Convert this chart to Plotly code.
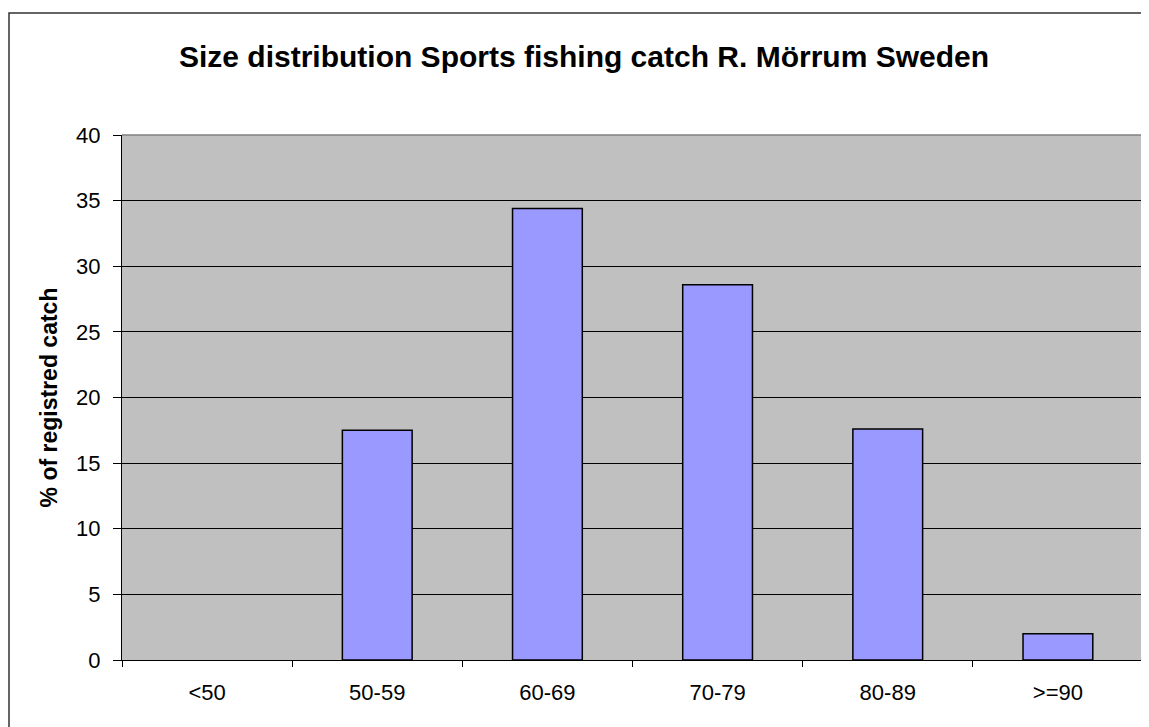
import plotly.graph_objects as go

categories = ["<50", "50-59", "60-69", "70-79", "80-89", ">=90"]
percent_catch = [0, 17.5, 34.4, 28.6, 17.6, 2.0]
y_ticks = [0, 5, 10, 15, 20, 25, 30, 35, 40]

title_text = "Size distribution Sports fishing catch R. Mörrum Sweden"
y_title = "% of registred catch"

# page body has an 8px margin; figure coordinates = screen - 8
W, H = 1141, 719
L, R, T, B = 114, 6, 127, 67
pw, ph = W - L - R, H - T - B

fig = go.Figure()
fig.add_trace(go.Bar(
    x=categories, y=percent_catch,
    marker=dict(color="#9999FF",
                line=dict(color="black",
                          width=[1.5 if v > 0 else 0 for v in percent_catch])),
    showlegend=False,
))

font_family = "Liberation Sans, Arial, sans-serif"

fig.update_layout(
    width=W, height=H,
    margin=dict(l=L, r=R, t=T, b=B),
    paper_bgcolor="white",
    plot_bgcolor="#C0C0C0",
    bargap=0.59,
    font=dict(family=font_family, color="black", size=22),
    title=dict(text="<b>" + title_text + "</b>", x=576 / W, xanchor="center",
               y=1 - 48 / H, yanchor="middle",
               font=dict(size=30, family=font_family, color="black")),
    xaxis=dict(
        type="category",
        tickson="boundaries",
        ticks="outside", ticklen=6, tickcolor="black", tickwidth=1,
        showline=True, linecolor="black", linewidth=1,
        showgrid=False,
        tickfont=dict(size=22),
        ticklabelstandoff=13,
        range=[-0.5, 5.5],
    ),
    yaxis=dict(
        range=[0, 40],
        tickvals=y_ticks,
        ticks="outside", ticklen=8, tickcolor="black", tickwidth=1,
        showline=True, linecolor="black", linewidth=1,
        showgrid=True, gridcolor="black", gridwidth=1,
        zeroline=False,
        tickfont=dict(size=22),
        ticklabelstandoff=8,
        title=dict(text="<b>" + y_title + "</b>", font=dict(size=23), standoff=12),
    ),
    shapes=[
        # plot-area top and right edges (gray)
        dict(type="line", xref="paper", yref="paper", x0=0, x1=1, y0=1, y1=1,
             line=dict(color="#808080", width=1.5)),
        dict(type="line", xref="paper", yref="paper", x0=1, x1=1, y0=0, y1=1,
             line=dict(color="#808080", width=1.5)),
        # outer chart border
        dict(type="rect", xref="paper", yref="paper",
             x0=(1 - L) / pw, x1=(W + 10 - L) / pw,
             y0=-(H + 10 - (T + ph)) / ph, y1=1 + (T - 5) / ph,
             line=dict(color="#333333", width=1.5), fillcolor="rgba(0,0,0,0)"),
    ],
)

fig.write_html("out.html")
